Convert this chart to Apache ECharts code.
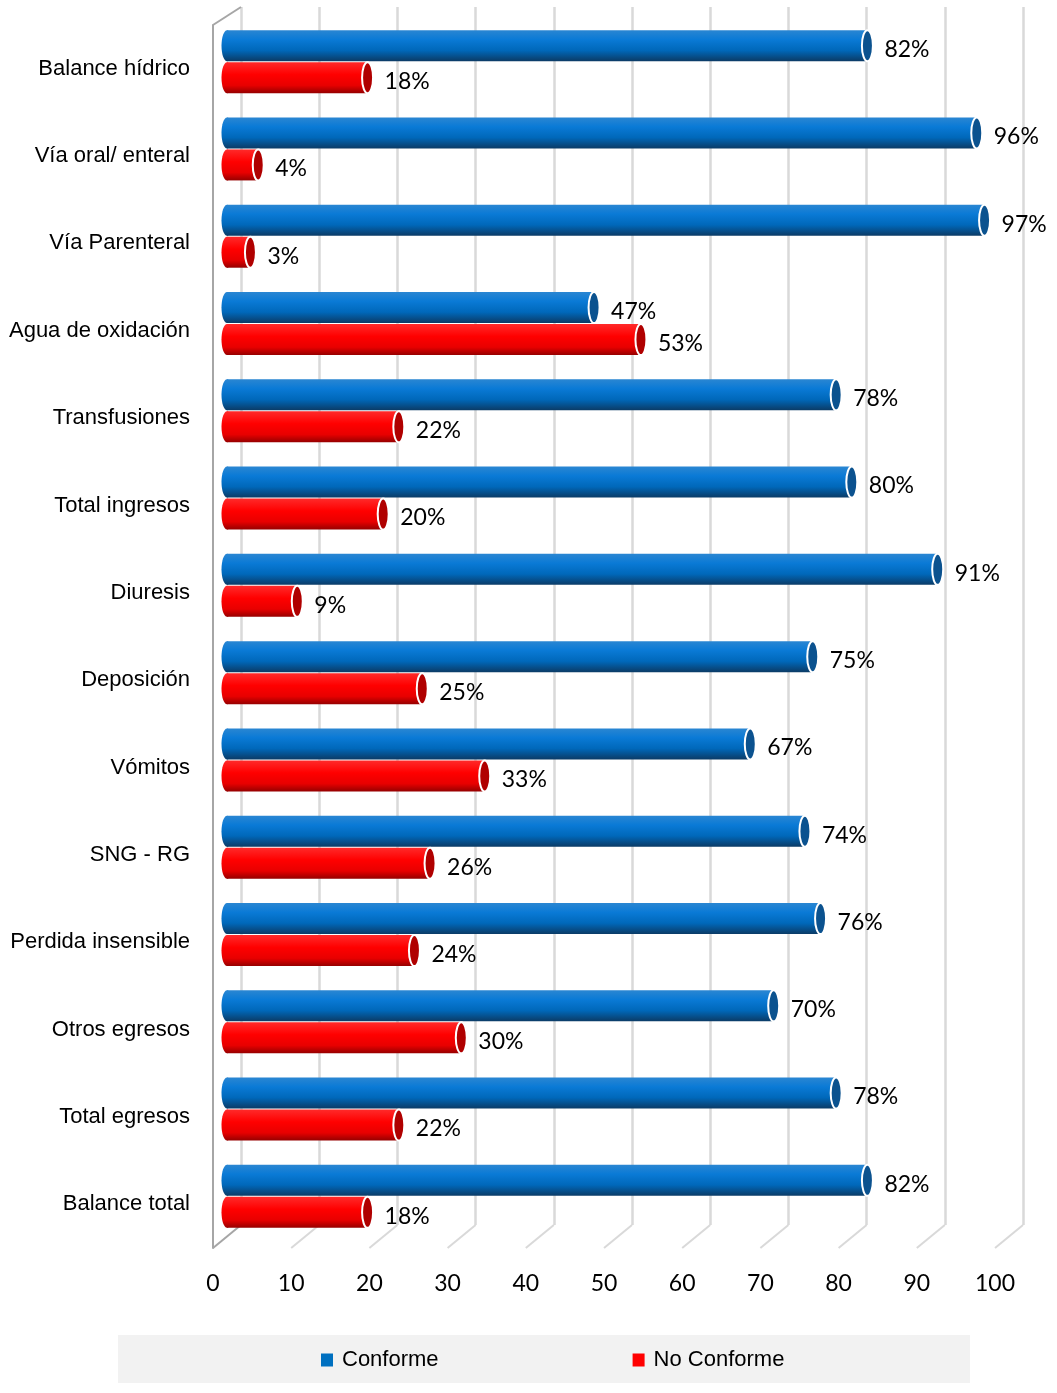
<!DOCTYPE html>
<html>
<head>
<meta charset="utf-8">
<script src="https://cdn.jsdelivr.net/npm/echarts@6/dist/echarts.min.js"></script>
<style>html,body{margin:0;padding:0;background:#fff}#c{width:1057px;height:1393px}</style>
</head>
<body>
<div id="c"></div>
<script>
const categories = ['Balance hídrico','Vía oral/ enteral','Vía Parenteral','Agua de oxidación','Transfusiones','Total ingresos','Diuresis','Deposición','Vómitos','SNG - RG','Perdida insensible','Otros egresos','Total egresos','Balance total'];
const conforme = [82,96,97,47,78,80,91,75,67,74,76,70,78,82];
const noConforme = [18,4,3,53,22,20,9,25,33,26,24,30,22,18];
const xTicks = [0,10,20,30,40,50,60,70,80,90,100];

const NARROW = "'Liberation Sans Narrow','Arial Narrow','Liberation Sans',sans-serif";
const NUMF = "Lato, 'Open Sans', sans-serif";

const chart = echarts.init(document.getElementById('c'), null, {renderer:'canvas'});

function makeCylinder(offsetY, grad, capColor) {
  return function (params, api) {
    const cat = api.value(1), val = api.value(0);
    const p0 = api.coord([0, cat]);
    const p1 = api.coord([val, cat]);
    const cy = p0[1] + offsetY;
    const h = 31;
    const fill = new echarts.graphic.LinearGradient(0, 0, 0, 1, grad);
    return {
      type: 'group',
      children: [
        {type:'ellipse', shape:{cx:p0[0], cy:cy, rx:5.5, ry:h/2}, style:{fill:fill}},
        {type:'rect', shape:{x:p0[0], y:cy-h/2, width:Math.max(p1[0]-p0[0],0), height:h}, style:{fill:fill}},
        {type:'ellipse', shape:{cx:p1[0], cy:cy, rx:5.5, ry:h/2}, style:{fill:capColor, stroke:'#ffffff', lineWidth:2}},
        {type:'text', x:p1[0]+17, y:cy+4, style:{text:val+'%', font:'23px '+NUMF, fill:'#000', textAlign:'left', textVerticalAlign:'middle'}}
      ]
    };
  };
}

const blueGrad = [{offset:0,color:'#2a86d2'},{offset:0.3,color:'#0a7ad6'},{offset:0.65,color:'#0068ba'},{offset:1,color:'#0b3b66'}];
const redGrad = [{offset:0,color:'#ff2a2a'},{offset:0.4,color:'#ff0000'},{offset:0.75,color:'#e80000'},{offset:1,color:'#960000'}];

const option = {
  backgroundColor:'#ffffff',
  animation:false,
  graphic:[{type:'rect', left:118, top:1335, shape:{width:852, height:48}, style:{fill:'#f2f2f2'}, z:-1}],
  legend:{
    left:316, top:1344, itemWidth:12, itemHeight:13, itemGap:194, icon:'rect',
    textStyle:{fontFamily:NARROW, fontSize:22, color:'#000', padding:[0,0,0,4]},
    data:['Conforme','No Conforme']
  },
  grid:[
    {left:213, right:62, top:25, bottom:145, outerBoundsMode:'none', containLabel:false},
    {left:227, right:49, top:18, bottom:153, outerBoundsMode:'none', containLabel:false},
    {left:241, right:34, top:7, bottom:168, outerBoundsMode:'none', containLabel:false}
  ],
  xAxis:[
    {gridIndex:0, type:'value', min:0, max:100, interval:10, axisLine:{show:false}, axisTick:{show:false}, splitLine:{show:false},
     axisLabel:{margin:24, fontFamily:NUMF, fontSize:23, color:'#000', formatter:function(v){return xTicks.indexOf(v)>=0? String(v):'';}}},
    {gridIndex:1, type:'value', min:0, max:100, show:false},
    {gridIndex:2, type:'value', min:0, max:100, interval:10, axisLine:{show:false}, axisTick:{show:false}, axisLabel:{show:false},
     splitLine:{show:true, lineStyle:{color:'#d9d9d9', width:2.5}}}
  ],
  yAxis:[
    {gridIndex:0, type:'category', data:categories, inverse:true, axisTick:{show:false},
     axisLine:{show:true, lineStyle:{color:'#a6a6a6', width:2}},
     axisLabel:{margin:23, fontFamily:NARROW, fontSize:22, color:'#000', padding:[8,0,0,0]}},
    {gridIndex:1, type:'category', data:categories, inverse:true, show:false},
    {gridIndex:2, type:'category', data:categories, inverse:true, show:false}
  ],
  series:[
    {
      type:'custom', name:'floor', xAxisIndex:0, yAxisIndex:0, silent:true, z:1,
      data: xTicks.map(function(v){return [v, 0];}),
      renderItem:function(params, api){
        const cs = params.coordSys;
        const x = api.coord([api.value(0), 0])[0];
        const yb = cs.y + cs.height;
        const children = [{type:'line', shape:{x1:x, y1:yb, x2:x+28, y2:yb-23}, style:{stroke: api.value(0)===0?'#a6a6a6':'#d9d9d9', lineWidth:2}}];
        if (api.value(0) === 0) {
          children.push({type:'line', shape:{x1:x, y1:cs.y, x2:x+28, y2:cs.y-18}, style:{stroke:'#a6a6a6', lineWidth:2}});
        }
        return {type:'group', children:children};
      }
    },
    {
      type:'custom', name:'Conforme', xAxisIndex:1, yAxisIndex:1, z:5,
      itemStyle:{color:'#0070c0'},
      data: conforme.map(function(v,i){return [v,i];}),
      renderItem: makeCylinder(-16, blueGrad, '#0b528f')
    },
    {
      type:'custom', name:'No Conforme', xAxisIndex:1, yAxisIndex:1, z:5,
      itemStyle:{color:'#ff0000'},
      data: noConforme.map(function(v,i){return [v,i];}),
      renderItem: makeCylinder(16, redGrad, '#b00000')
    }
  ]
};
chart.setOption(option);
</script>
</body>
</html>
